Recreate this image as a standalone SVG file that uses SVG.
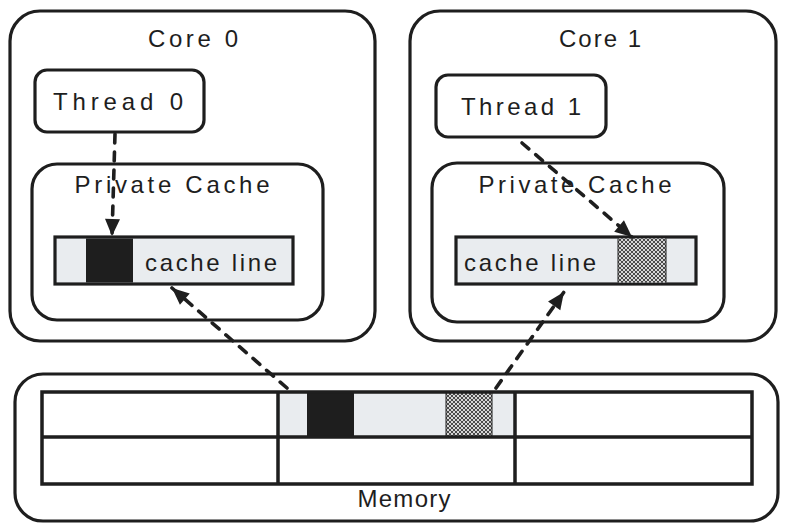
<svg xmlns="http://www.w3.org/2000/svg" width="788" height="529" viewBox="0 0 788 529">
<style>
.box{fill:#fff;stroke:#1e1e1e;stroke-width:3.2}
.line{fill:#e9ecef;stroke:#1e1e1e;stroke-width:3.2}
.dark{fill:#1e1e1e}
.hatch{fill:url(#xh)}
.grid{fill:none;stroke:#1e1e1e;stroke-width:3.5}
.t{font-family:"Liberation Sans",Arial,sans-serif;font-size:24px;fill:#1e1e1e}
.c{fill:none;stroke:#1e1e1e;stroke-width:3.6;stroke-dasharray:9 9;stroke-linecap:round}
</style>
<defs>
<pattern id="xh" width="4" height="4" patternUnits="userSpaceOnUse">
<rect width="4" height="4" fill="#d6d6d6"/>
<path d="M0,0L4,4M4,0L0,4" stroke="#3a3a3a" stroke-width="0.9"/>
</pattern>
<marker id="ah" markerUnits="userSpaceOnUse" markerWidth="20" markerHeight="20" viewBox="0 0 20 20" refX="18" refY="10" orient="auto">
<path d="M1,2.5L18,10L1,17.5Z" fill="#1e1e1e"/>
</marker>
</defs>
<g id="core0">
<rect class="box" x="10" y="11" width="365" height="330" rx="30"/>
<text class="t" x="193" y="47" text-anchor="middle" textLength="90" lengthAdjust="spacing">Core 0</text>
</g>
<g id="thread0">
<rect class="box" x="35" y="70" width="169" height="62" rx="12"/>
<text class="t" x="118" y="110" text-anchor="middle" textLength="130" lengthAdjust="spacing">Thread 0</text>
</g>
<g id="cache0">
<rect class="box" x="32" y="164" width="291" height="156" rx="25"/>
<text class="t" x="172" y="193" text-anchor="middle" textLength="195" lengthAdjust="spacing">Private Cache</text>
<rect class="line" x="55" y="237" width="238" height="47"/>
<rect class="dark" x="86" y="238.5" width="47" height="44"/>
<text class="t" x="145" y="271" textLength="132" lengthAdjust="spacing">cache line</text>
</g>
<g id="core1">
<rect class="box" x="410" y="11" width="366" height="330" rx="30"/>
<text class="t" x="600" y="47" text-anchor="middle" textLength="82" lengthAdjust="spacing">Core 1</text>
</g>
<g id="thread1">
<rect class="box" x="436" y="75" width="170" height="62" rx="12"/>
<text class="t" x="521" y="115" text-anchor="middle" textLength="120" lengthAdjust="spacing">Thread 1</text>
</g>
<g id="cache1">
<rect class="box" x="432" y="163" width="292" height="159" rx="25"/>
<text class="t" x="575" y="193" text-anchor="middle" textLength="193" lengthAdjust="spacing">Private Cache</text>
<rect class="line" x="456" y="237" width="240" height="47"/>
<rect class="hatch" x="618" y="238.5" width="48" height="44"/>
<line x1="618" y1="238.5" x2="618" y2="282.5" stroke="#1e1e1e" stroke-width="1"/>
<line x1="666" y1="238.5" x2="666" y2="282.5" stroke="#1e1e1e" stroke-width="1"/>
<text class="t" x="464" y="271" textLength="132" lengthAdjust="spacing">cache line</text>
</g>
<g id="memory">
<rect class="box" x="15" y="374" width="763" height="147" rx="28"/>
<rect x="278" y="392" width="237" height="45" fill="#e9ecef"/>
<rect class="dark" x="307" y="393" width="47" height="43"/>
<rect class="hatch" x="446" y="393" width="46" height="43"/>
<line x1="446" y1="393" x2="446" y2="436" stroke="#1e1e1e" stroke-width="1"/>
<line x1="492" y1="393" x2="492" y2="436" stroke="#1e1e1e" stroke-width="1"/>
<path class="grid" d="M42,392H752V484H42ZM42,437H752M278,392V484M515,392V484"/>
<text class="t" x="404" y="507" text-anchor="middle" textLength="93" lengthAdjust="spacing">Memory</text>
</g>
<g id="connectors">
<path class="c" d="M115,134L112,236" marker-end="url(#ah)"/>
<path class="c" d="M522,143L632,237" marker-end="url(#ah)"/>
<path class="c" d="M287,388L172,288" marker-end="url(#ah)"/>
<path class="c" d="M496,388L564,292" marker-end="url(#ah)"/>
</g>
</svg>
